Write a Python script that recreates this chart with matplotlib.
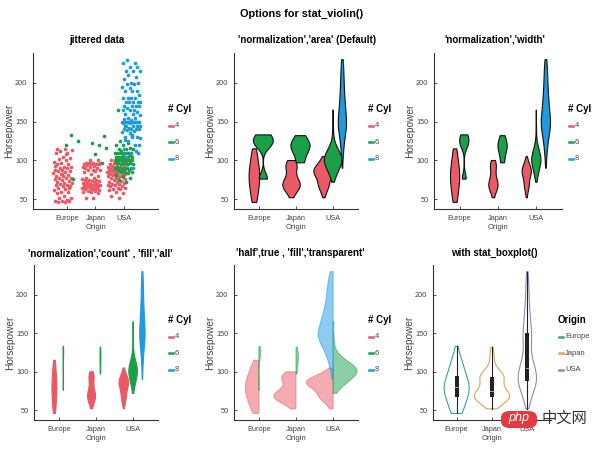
import numpy as np
import matplotlib
matplotlib.use('Agg')
import matplotlib.pyplot as plt
from matplotlib.lines import Line2D
from matplotlib.patches import FancyBboxPatch

plt.rcParams['font.family'] = ['Liberation Sans', 'DejaVu Sans']

# Horsepower of the cars, split by origin and number of cylinders
origins = ['Europe', 'Japan', 'USA']
cyl_labels = ['4', '6', '8']

europe_4 = [46, 46, 48, 48, 48, 49, 52, 52, 54, 58, 60, 60, 62, 63, 65, 67, 67, 68, 69, 70,
            71, 71, 72, 74, 75, 76, 77, 78, 78, 80, 80, 81, 83, 84, 85, 86, 87, 88, 88, 90,
            90, 91, 92, 95, 95, 97, 98, 100, 102, 103, 105, 110, 110, 112, 113, 115, 115, 64,
            82, 93, 108]
europe_6 = [76, 120, 125, 133]
japan_4 = [52, 52, 58, 60, 60, 61, 61, 62, 63, 63, 65, 65, 65, 65, 66, 67, 67, 67, 68, 68,
           69, 69, 70, 70, 70, 71, 72, 72, 73, 74, 75, 75, 75, 76, 77, 78, 80, 82, 85, 86,
           88, 88, 88, 90, 90, 92, 92, 93, 94, 95, 95, 95, 96, 97, 97, 97, 97, 100, 100, 64,
           71]
japan_6 = [97, 108, 116, 120, 122, 132]
usa_4 = [52, 54, 58, 60, 62, 63, 63, 65, 65, 67, 67, 68, 69, 70, 70, 71, 72, 72, 74, 75,
         76, 78, 78, 79, 80, 80, 80, 81, 82, 83, 83, 84, 84, 85, 85, 86, 86, 87, 88, 88,
         88, 89, 90, 90, 90, 91, 92, 92, 93, 94, 95, 95, 96, 97, 98, 100, 100, 105, 77, 84,
         88, 86, 82, 90]
usa_6 = [72, 75, 78, 80, 81, 84, 85, 85, 85, 88, 88, 88, 90, 90, 90, 90, 90, 92, 95, 95,
         95, 95, 97, 97, 98, 98, 100, 100, 100, 100, 100, 100, 100, 100, 100, 100, 100, 102,
         105, 105, 105, 105, 105, 105, 107, 108, 110, 110, 110, 110, 110, 110, 110, 112, 115,
         115, 115, 116, 120, 120, 122, 125, 133, 145, 165]
usa_8 = [90, 105, 110, 110, 115, 120, 125, 129, 130, 130, 130, 135, 137, 138, 139, 140, 140,
         140, 140, 142, 145, 145, 145, 145, 148, 148, 149, 150, 150, 150, 150, 150, 150, 150,
         150, 150, 150, 152, 153, 155, 155, 158, 160, 160, 163, 165, 165, 165, 167, 170, 170,
         170, 170, 175, 175, 175, 175, 175, 180, 180, 180, 180, 185, 190, 190, 190, 193, 195,
         198, 198, 200, 200, 205, 208, 210, 215, 215, 215, 220, 220, 225, 225, 230, 120, 132,
         127, 112]

groups = {
    'Europe': {'4': europe_4, '6': europe_6},
    'Japan': {'4': japan_4, '6': japan_6},
    'USA': {'4': usa_4, '6': usa_6, '8': usa_8},
}

cyl_colors = {'4': '#EA5A66', '6': '#1BA04A', '8': '#1E9BE0'}
origin_colors = {'Europe': '#3BA58A', 'Japan': '#DBA55A', 'USA': '#8E8BB4'}

W, H = 600, 450
fig = plt.figure(figsize=(6, 4.5), dpi=100)


def add_axes_px(left, right, top, bottom):
    return fig.add_axes([left / W, 1 - bottom / H, (right - left) / W, (bottom - top) / H])


def style(ax, xlim):
    ax.set_xlim(*xlim)
    ax.set_ylim(37.5, 238.5)
    ax.set_xticks([1, 2, 3])
    ax.set_xticklabels(origins)
    ax.set_yticks([50, 100, 150, 200])
    for s in ['top', 'right']:
        ax.spines[s].set_visible(False)
    for s in ['left', 'bottom']:
        ax.spines[s].set_color('#333333')
        ax.spines[s].set_linewidth(0.8)
    ax.tick_params(direction='in', length=2, width=0.6, colors='#333333',
                   labelcolor='#444444', labelsize=5.3, pad=4)
    ax.set_ylabel('Horsepower', fontsize=7.3, color='#444444', labelpad=1)
    ax.set_xlabel('Origin', fontsize=5.6, color='#444444', labelpad=2)
    ax.patch.set_alpha(0)


def ksdensity(vals, npts=120):
    # normal kernel, default (robust) bandwidth, limited to the data range
    v = np.asarray(vals, float)
    n = len(v)
    sig = np.median(np.abs(v - np.median(v))) / 0.6745
    if sig == 0:
        sig = v.std()
    bw = sig * (4 / (3 * n)) ** 0.2
    y = np.linspace(v.min(), v.max(), npts)
    d = np.exp(-0.5 * ((y[:, None] - v[None, :]) / bw) ** 2).sum(1) / (n * bw * np.sqrt(2 * np.pi))
    return y, d


def dodge(origin, cyl, spread3=0.25, spread2=0.12):
    keys = list(groups[origin].keys())
    offs = {2: [-spread2, spread2], 3: [-spread3, 0.0, spread3]}[len(keys)]
    return origins.index(origin) + 1 + offs[keys.index(cyl)]


def draw_violin(ax, x0, y, w, side=None, **kw):
    if side is None:
        xs = np.concatenate([x0 - w, (x0 + w)[::-1]])
        ys = np.concatenate([y, y[::-1]])
    elif side == 'left':
        xs = np.concatenate([x0 - w, [x0, x0]])
        ys = np.concatenate([y, [y[-1], y[0]]])
    else:
        xs = np.concatenate([x0 + w, [x0, x0]])
        ys = np.concatenate([y, [y[-1], y[0]]])
    ax.fill(xs, ys, **kw)


def widths(mode, target):
    out = {}
    for o in origins:
        for c, vals in groups[o].items():
            y, d = ksdensity(vals)
            if mode == 'count':
                d = d * len(vals)
            if mode == 'width':
                d = d / d.max() * target
            out[(o, c)] = (y, d)
    if mode != 'width':
        m = max(d.max() for _, d in out.values())
        out = {k: (y, d / m * target) for k, (y, d) in out.items()}
    return out


violin_xlim = (0.33, 3.67)

# 1. jittered data
ax = add_axes_px(33, 158, 53, 209)
for o in origins:
    for c, vals in groups[o].items():
        x0 = dodge(o, c, spread3=0.26, spread2=0.15)
        jit = ((np.arange(len(vals)) + 1) * 0.6180339887) % 1 - 0.5
        ax.scatter(x0 + jit * 0.66, vals, s=7, color=cyl_colors[c], linewidths=0)
style(ax, (-0.19, 4.2))

# 2. area
ax = add_axes_px(234, 358, 53, 209)
wd = widths('area', 0.27)
for c in cyl_labels:
    for o in origins:
        if c in groups[o]:
            y, w = wd[(o, c)]
            draw_violin(ax, dodge(o, c), y, w, facecolor=cyl_colors[c], edgecolor='#111111', linewidth=0.8)
style(ax, violin_xlim)

# 3. width
ax = add_axes_px(434, 562, 53, 209)
wd = widths('width', 0.12)
for c in cyl_labels:
    for o in origins:
        if c in groups[o]:
            y, w = wd[(o, c)]
            draw_violin(ax, dodge(o, c), y, w, facecolor=cyl_colors[c], edgecolor='#111111', linewidth=0.8)
style(ax, violin_xlim)

# 4. count, fill all
ax = add_axes_px(34, 158, 265, 420)
wd = widths('count', 0.13)
for c in cyl_labels:
    for o in origins:
        if c in groups[o]:
            y, w = wd[(o, c)]
            draw_violin(ax, dodge(o, c), y, w, facecolor=cyl_colors[c], edgecolor=cyl_colors[c], linewidth=0.8)
style(ax, violin_xlim)

# 5. half, transparent
ax = add_axes_px(234, 358, 265, 420)
wd = widths('count', 0.72)
sides = {'4': 'left', '6': 'right', '8': 'left'}
for c in cyl_labels:
    for o in origins:
        if c in groups[o]:
            y, w = wd[(o, c)]
            draw_violin(ax, origins.index(o) + 1, y, w, side=sides[c],
                        facecolor=cyl_colors[c], alpha=0.5, edgecolor=cyl_colors[c], linewidth=0.8)
style(ax, violin_xlim)

# 6. violin + boxplot by origin
ax = add_axes_px(433, 551, 265, 420)
all_hp = {o: sum(groups[o].values(), []) for o in origins}
dens = {o: ksdensity(all_hp[o]) for o in origins}
m = max(d.max() for _, d in dens.values())
for i, o in enumerate(origins):
    y, d = dens[o]
    draw_violin(ax, i + 1, y, d / m * 0.5, facecolor='none', edgecolor=origin_colors[o], linewidth=0.8)
    v = np.array(all_hp[o], float)
    q1, med, q3 = np.percentile(v, [25, 50, 75])
    iqr = q3 - q1
    inside = v[(v >= q1 - 1.5 * iqr) & (v <= q3 + 1.5 * iqr)]
    outl = v[(v < q1 - 1.5 * iqr) | (v > q3 + 1.5 * iqr)]
    ax.plot([i + 1, i + 1], [inside.min(), inside.max()], color='#222222', linewidth=0.8)
    ax.add_patch(plt.Rectangle((i + 1 - 0.055, q1), 0.11, q3 - q1, facecolor='#222222', edgecolor='none'))
    ax.plot([i + 1 - 0.05, i + 1 + 0.05], [med, med], color='#bbbbbb', linewidth=0.6)
    ax.scatter(np.full(len(outl), i + 1), outl, s=9, color=origin_colors[o], edgecolors='#1d7a60', linewidths=0.4)
style(ax, violin_xlim)

# titles
fig.text(302 / W, 1 - 14 / H, 'Options for stat_violin()', ha='center', va='center', fontsize=7.8, fontweight='bold')
titles = [(97, 40, 'jittered data'), (307, 40, "'normalization','area' (Default)"),
          (495, 40, "'normalization','width'"), (100, 253, "'normalization','count' , 'fill','all'"),
          (300, 253, "'half',true , 'fill','transparent'"), (494, 253, 'with stat_boxplot()')]
for x, y, t in titles:
    fig.text(x / W, 1 - y / H, t, ha='center', va='center', fontsize=7, fontweight='bold')


def legend(x, y, title, labels, colors):
    fig.text(x / W, 1 - y / H, title, ha='left', va='center', fontsize=7, fontweight='bold')
    for k, (lab, col) in enumerate(zip(labels, colors)):
        yy = y + 16.6 * (k + 1)
        fig.add_artist(Line2D([(x + 1) / W, (x + 5) / W], [1 - yy / H] * 2, color=col, linewidth=1.8,
                              transform=fig.transFigure))
        fig.text((x + 7) / W, 1 - yy / H, lab, ha='left', va='center', fontsize=5.4, color='#444444')


for lx, ly in [(168, 109), (368, 109), (568, 109), (168, 320), (368, 320)]:
    legend(lx, ly, '# Cyl', cyl_labels, [cyl_colors[c] for c in cyl_labels])
legend(558, 320, 'Origin', origins, [origin_colors[o] for o in origins])

# watermark of the source site
fig.add_artist(FancyBboxPatch((501 / W, 1 - 428 / H), 36 / W, 17 / H, boxstyle='round,pad=0,rounding_size=0.015',
                              facecolor='#E23A3F', edgecolor='none', transform=fig.transFigure))
fig.text(519 / W, 1 - 418 / H, 'php', ha='center', va='center', fontsize=9, color='white', style='italic')
fig.text(564 / W, 1 - 418 / H, '中文网', ha='center', va='center', fontsize=11,
         color='#333333', family=['Noto Sans CJK SC', 'DejaVu Sans'])

fig.savefig('out.png', dpi=100)
